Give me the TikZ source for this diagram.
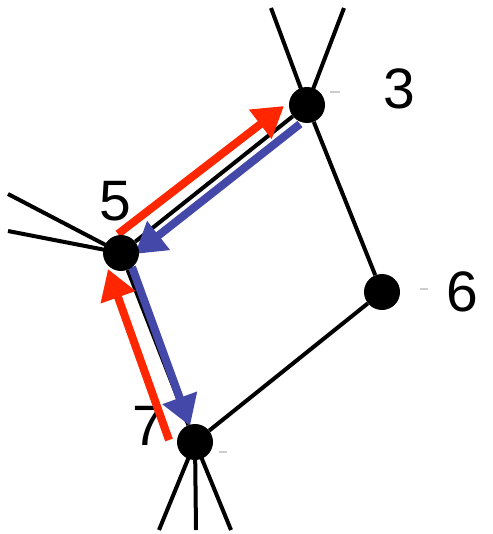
\documentclass[tikz,border=0pt]{standalone}
\usepackage{fontspec}
\setmainfont{Liberation Sans}
\usetikzlibrary{arrows.meta}
\definecolor{pathred}{RGB}{255,38,0}
\definecolor{pathblue}{RGB}{68,72,168}
\definecolor{tickgray}{RGB}{205,205,205}
\pgfdeclarelayer{bg}
\pgfsetlayers{bg,main}

\begin{document}
\begin{tikzpicture}[x=1pt, y=-1pt,
  vertex/.style={circle, fill, inner sep=0pt, minimum size=36pt},
  vlabel/.style={inner sep=0pt, font=\fontsize{57}{60}\selectfont},
  edge/.style={line width=4pt},
  walk/.style={line width=8pt, -{Triangle[length=30pt, width=35pt]}}]
  \useasboundingbox (0,0) rectangle (492,534);
  % Vertices
  \node[vertex] (v3) at (307,105) {};
  \node[vertex] (v5) at (121,253) {};
  \node[vertex] (v6) at (382,292) {};
  \node[vertex] (v7) at (195,442) {};
  % Free ends of the stubs
  \coordinate (s3a) at (271,8);
  \coordinate (s3b) at (344,8);
  \coordinate (s5a) at (8,194);
  \coordinate (s5b) at (8,231);
  \coordinate (s7a) at (159,530);
  \coordinate (s7b) at (196,530);
  \coordinate (s7c) at (231,530);
  % Ends of the walk arrows
  \coordinate (r1s) at (118,234);
  \coordinate (r1e) at (284,106);
  \coordinate (r2s) at (169,440);
  \coordinate (r2e) at (108,269);
  \coordinate (b1s) at (300,124);
  \coordinate (b1e) at (135,254);
  \coordinate (b2s) at (132,267);
  \coordinate (b2e) at (190,426);
  \begin{pgfonlayer}{bg}
    % Labels
    \node[vlabel] (l3) at (399,89) {3};
    \node[vlabel] (l5) at (115,201) {5};
    \node[vlabel] (l6) at (462,292) {6};
    \node[vlabel] (l7) at (148,426) {7};
    % Small grey ticks
    \draw[tickgray, line width=2pt] (330,92) -- (340,92);
    \draw[tickgray, line width=2pt] (420,289) -- (428,289);
    \draw[tickgray, line width=2pt] (219,452) -- (227,452);
    % Edges
    \draw[edge] (v3) -- (v5);
    \draw[edge] (v3) -- (v6);
    \draw[edge] (v6) -- (v7);
    \draw[edge] (v5) -- (v7);
    \draw[edge] (v3.center) -- (s3a);
    \draw[edge] (v3.center) -- (s3b);
    \draw[edge] (v5.center) -- (s5a);
    \draw[edge] (v5.center) -- (s5b);
    \draw[edge] (v7.center) -- (s7a);
    \draw[edge] (v7.center) -- (s7b);
    \draw[edge] (v7.center) -- (s7c);
    % Walk arrows
    \draw[walk, pathred] (r1s) -- (r1e);
    \draw[walk, pathred] (r2s) -- (r2e);
    \draw[walk, pathblue] (b1s) -- (b1e);
    \draw[walk, pathblue] (b2s) -- (b2e);
  \end{pgfonlayer}
\end{tikzpicture}
\end{document}
